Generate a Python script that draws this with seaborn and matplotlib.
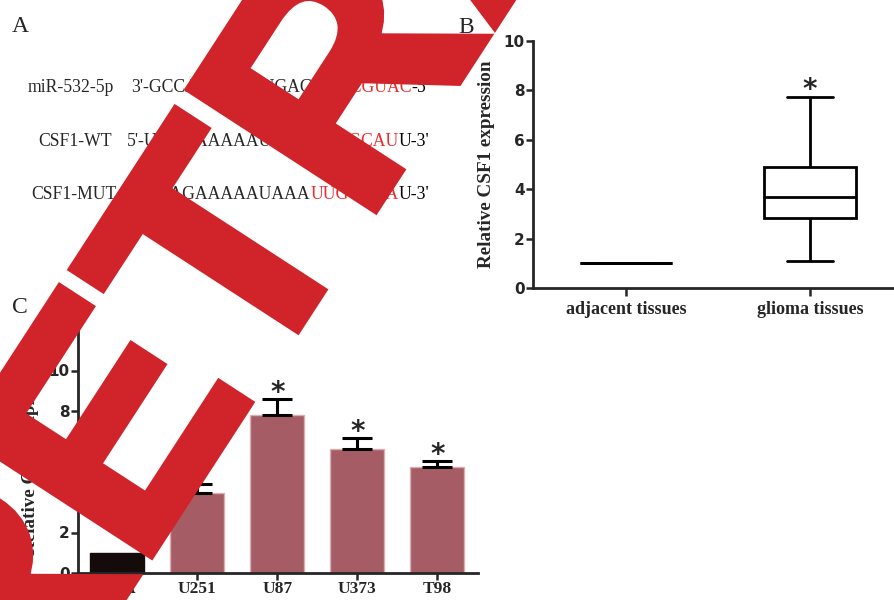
import numpy as np
import pandas as pd
import seaborn as sns
import matplotlib.pyplot as plt
import matplotlib.patheffects as pe

# ---- data ----
# panel A: sequence pieces (black, red, black)
mir_label = "miR-532-5p"
mir_parts = ["3'-GCCAGGAUGUGAGUU", "CCGUAC", "-5'"]
wt_label = "CSF1-WT"
wt_parts = ["5'-UUAGAAAAAUAAA", "GUGGCAU", "U-3'"]
mut_label = "CSF1-MUT"
mut_parts = ["5'-UUAGAAAAAUAAA", "UUGCGUA", "U-3'"]

# panel B: box plot (tissue samples)
box_groups = ["adjacent tissues", "glioma tissues"]
adjacent_vals = [1.0, 1.0, 1.0, 1.0, 1.0]
glioma_vals = [1.1, 2.85, 3.7, 4.9, 7.75]

# panel C: cell lines
cell_lines = ["NHA", "U251", "U87", "U373", "T98"]
cell_means = [1.0, 3.95, 7.8, 6.1, 5.25]
cell_err = [0.0, 0.45, 0.8, 0.55, 0.3]

W, H = 894, 600


def fx(px):
    return px / W


def fy(py):
    return 1 - py / H


sns.set_style("ticks")
plt.rcParams["font.family"] = ["Liberation Serif", "DejaVu Serif"]

fig = plt.figure(figsize=(8.94, 6.0), dpi=100)

# ---- panel A ----
ax0 = fig.add_axes([0, 0, 1, 1])
ax0.set_axis_off()
ax0.set_xlim(0, 1)
ax0.set_ylim(0, 1)

seq_red = "#ee2a2a"


def seq_line(label, parts, lx, sx, base):
    ax0.text(fx(lx), fy(base), label, fontsize=12.7, va="baseline", ha="left")
    prev = ax0.text(fx(sx), fy(base), parts[0], fontsize=12.7, va="baseline", ha="left")
    cols = ["black", seq_red, "black"]
    for p, c in zip(parts[1:], cols[1:]):
        prev = ax0.annotate(p, xy=(1, 0), xycoords=prev, va="bottom", ha="left",
                            fontsize=12.7, color=c)


seq_line(mir_label, mir_parts, 28, 131, 92)
seq_line(wt_label, wt_parts, 38, 127, 146)
seq_line(mut_label, mut_parts, 31, 127, 199)

for lab, x, y in [("A", 12, 32), ("B", 458, 33), ("C", 12, 313)]:
    fig.text(fx(x), fy(y), lab, fontsize=17, va="baseline", ha="left", zorder=11)

num_font = dict(family="DejaVu Sans", weight="bold", size=11)

# ---- panel B ----
axB = fig.add_axes([fx(533), fy(288), 1 - fx(533), fy(41) - fy(288)])
df_box = pd.DataFrame({
    "group": [box_groups[0]] * len(adjacent_vals) + [box_groups[1]] * len(glioma_vals),
    "value": adjacent_vals + glioma_vals,
})
sns.boxplot(data=df_box, x="group", y="value", order=box_groups, color="white",
            linecolor="black", linewidth=2, width=0.5, whis=(0, 100), ax=axB)
axB.set_ylim(0, 10)
axB.set_xlim(-0.505, 1.457)
axB.set_yticks(np.arange(0, 11, 2))
axB.set_xlabel("")
axB.set_ylabel("Relative CSF1 expression", fontsize=13.8, fontweight="bold")
axB.yaxis.set_label_coords(-0.105, 0.5)
axB.text(1, max(glioma_vals) - 0.05, "*", ha="center", va="baseline",
         family="DejaVu Sans", weight="bold", size=20)

# ---- panel C ----
axC = fig.add_axes([fx(78), fy(573), fx(478) - fx(78), fy(330) - fy(573)])
df_bar = pd.DataFrame({"cell": cell_lines, "value": cell_means})
sns.barplot(data=df_bar, x="cell", y="value", hue="cell",
            palette=["#150b0b"] + ["#a65c64"] * 4, legend=False,
            width=0.67, saturation=1, ax=axC)
for i, p in enumerate(axC.patches):
    p.set_edgecolor("#150b0b" if i == 0 else "#d8aeb3")
    p.set_linewidth(1)
pos = np.arange(len(cell_lines))
err = np.array(cell_err)
mean = np.array(cell_means)
m = err > 0
axC.errorbar(pos[m], mean[m], yerr=[np.zeros(m.sum()), err[m]], fmt="none",
             ecolor="black", elinewidth=2.2, capsize=10.5, capthick=2.2)
for i in pos[m]:
    axC.text(i, mean[i] + err[i] - 0.1, "*", ha="center", va="baseline",
             family="DejaVu Sans", weight="bold", size=20)
axC.set_ylim(0, 12)
axC.set_xlim(-0.49, 4.51)
axC.set_yticks(np.arange(0, 11, 2))
axC.set_xlabel("")
axC.set_ylabel("Relative CSF1 expression", fontsize=13.8, fontweight="bold")
axC.yaxis.set_label_coords(-0.0975, 0.5)

for ax in (axB, axC):
    sns.despine(ax=ax)
    for s in ("left", "bottom"):
        ax.spines[s].set_linewidth(2)
    ax.tick_params(axis="y", length=5, width=1.8, pad=1)
    for t in ax.get_yticklabels():
        t.set_fontproperties(num_font)
axB.tick_params(axis="x", length=6, width=1.8, pad=3)
axC.tick_params(axis="x", length=5, width=1.8, pad=1)
for t in axB.get_xticklabels():
    t.set_fontsize(13)
    t.set_fontweight("bold")
for t in axC.get_xticklabels():
    t.set_fontsize(12.5)
    t.set_fontweight("bold")

# ---- retraction watermark ----
wm_red = "#d1232a"
fig.text(fx(12.6), fy(768), "RETRACTED", rotation=57, rotation_mode="anchor",
         ha="left", va="baseline", fontsize=232, fontweight="bold",
         family="Liberation Sans", color=wm_red, zorder=10,
         path_effects=[pe.Stroke(linewidth=6, foreground=wm_red, joinstyle="miter"),
                       pe.Normal()])

fig.savefig("out.png", dpi=100)
